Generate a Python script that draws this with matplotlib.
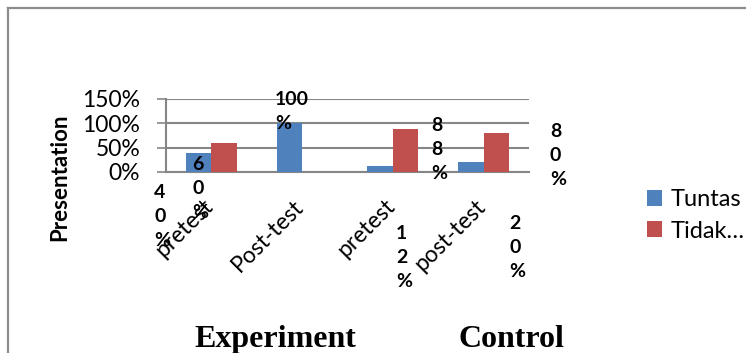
import matplotlib
matplotlib.use("Agg")
import matplotlib.pyplot as plt
from matplotlib.lines import Line2D
from matplotlib.transforms import ScaledTranslation
import numpy as np

categories = ["pretest", "Post-test", "pretest", "post-test"]
tuntas = [40, 100, 12, 20]
tidak = [60, 0, 88, 80]
series_names = ["Tuntas", "Tidak…"]
yticks = [0, 50, 100, 150]
ytick_labels = ["0%", "50%", "100%", "150%"]
groups = ["Experiment", "Control"]
label_texts_t = ["4\n0\n%", "100\n%", "1\n2\n%", "2\n0\n%"]
label_texts_r = ["6\n0\n%", None, "8\n8\n%", "8\n0\n%"]

BLUE = "#4F81BD"
RED = "#C0504D"
GRID = "#868686"
FONT = "Lato"

fig = plt.figure(figsize=(7.46, 3.53), dpi=100)
ax = fig.add_axes([166/746, 1-172/353, (529-166)/746, 73/353])

x = np.arange(len(categories))
w = 0.28
ax.bar(x - w/2, tuntas, w, color=BLUE, label=series_names[0], zorder=3)
ax.bar(x + w/2, tidak, w, color=RED, label=series_names[1], zorder=3)

ax.set_xlim(-0.5, 3.5)
ax.set_ylim(0, 150)
ax.set_yticks(yticks)
ax.set_yticklabels(ytick_labels, fontsize=16.5, family=FONT)
ax.yaxis.grid(True, color=GRID, lw=1.5, zorder=0)
ax.set_axisbelow(True)
for s in ["top", "right"]:
    ax.spines[s].set_visible(False)
for s in ["left", "bottom"]:
    ax.spines[s].set_color(GRID)
    ax.spines[s].set_linewidth(1.5)
ax.tick_params(axis="y", length=6.5, width=1.2, color=GRID, pad=12)
ax.tick_params(axis="x", length=0, pad=17)
ax.set_xticks(x)
ax.set_xticklabels(categories, rotation=45, ha="right", va="top",
                   fontsize=16.5, family=FONT)
shift = ScaledTranslation(6/100, 0, fig.dpi_scale_trans)
for lbl in ax.get_xticklabels():
    lbl.set_transform(lbl.get_transform() + shift)

ax.set_ylabel("Presentation", fontsize=16, fontweight="bold", family=FONT)
ax.yaxis.set_label_coords((70-166)/363, (172-177)/73)
ax.yaxis.label.set_verticalalignment("bottom")

# data labels (left edge x, top y) in data coordinates
pos_t = [(-0.632, -24), (0.701, 166), (2.034, -109), (3.280, -88)]
pos_r = [(-0.213, 33), None, (2.420, 113), (3.731, 101)]
lab_kw = dict(ha="left", va="top", fontsize=14, fontweight="bold",
              family=FONT, linespacing=1.5, clip_on=False)
for txt, p in zip(label_texts_t, pos_t):
    ax.text(p[0], p[1], txt, **lab_kw)
for txt, p in zip(label_texts_r, pos_r):
    if txt is None:
        continue
    ax.text(p[0], p[1], txt, **lab_kw)

leg = fig.legend(loc="upper left", bbox_to_anchor=(647/746, 1-189/353),
                 frameon=False, prop={"family": FONT, "size": 17},
                 handlelength=0.65, handleheight=0.65, handletextpad=0.35,
                 labelspacing=0.45, borderpad=0, borderaxespad=0)

fig.text(275/746, 1-347/353, groups[0], ha="center", va="baseline",
         fontsize=23, fontweight="bold", family="Liberation Serif")
fig.text(511/746, 1-347/353, groups[1], ha="center", va="baseline",
         fontsize=23, fontweight="bold", family="Liberation Serif")

fig.add_artist(Line2D([8/746, 8/746], [0, 1-8/353], transform=fig.transFigure,
                      color="#8C8C8C", lw=1.6))
fig.add_artist(Line2D([8/746, 1], [1-8/353, 1-8/353], transform=fig.transFigure,
                      color="#8C8C8C", lw=1.6))

fig.savefig("out.png", dpi=100)
